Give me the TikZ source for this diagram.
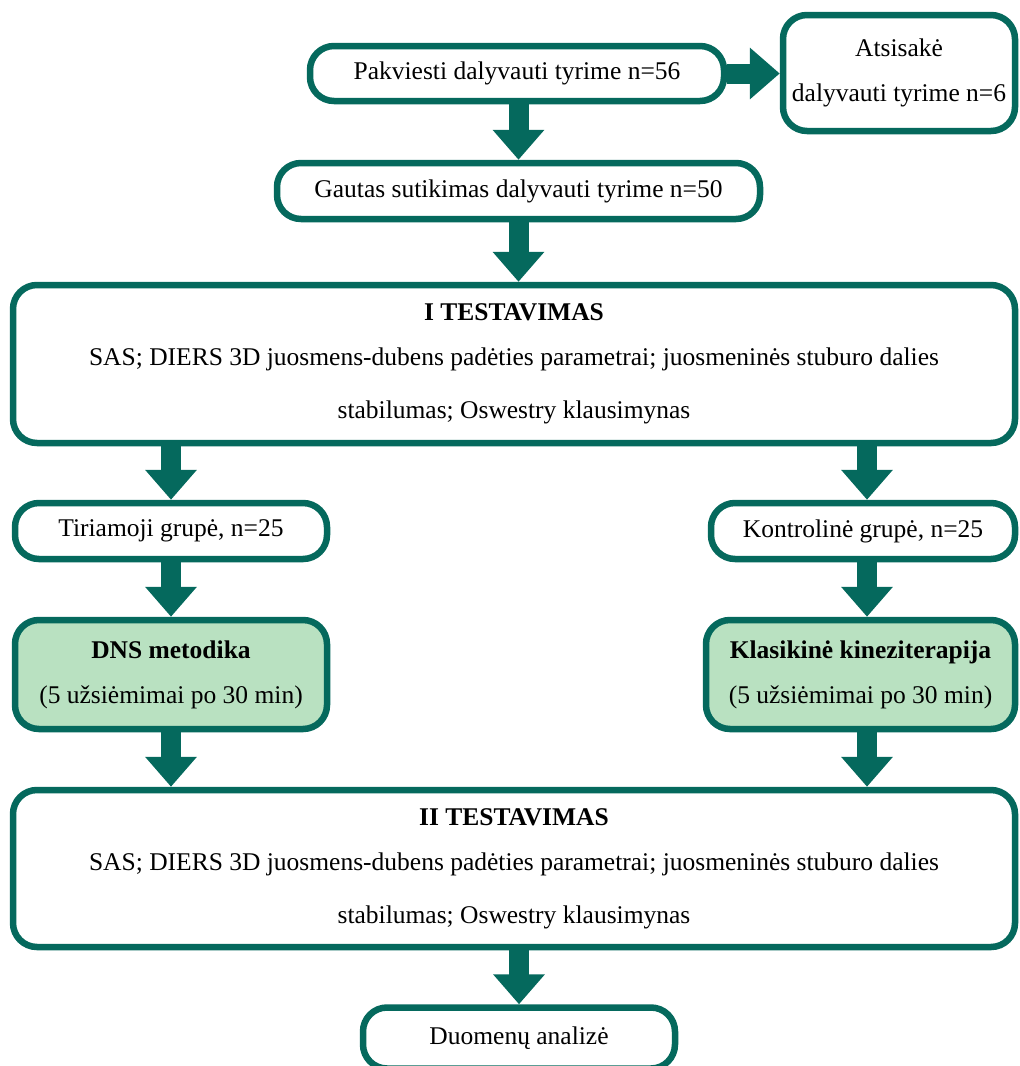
\documentclass[tikz,border=0pt]{standalone}
\usepackage{fontspec}
\setmainfont{Liberation Serif}
\usetikzlibrary{arrows.meta,calc}
\definecolor{tealc}{HTML}{05695D}
\definecolor{greenf}{HTML}{B9E1C1}
\tikzset{
  box/.style={draw=tealc, line width=6.5pt, rounded corners=24pt, fill=white,
    align=center, inner sep=0pt, font=\fontsize{25.5}{45}\selectfont},
  gbox/.style={box, fill=greenf},
  flow/.style={draw=tealc, line width=20pt, -{Triangle[width=50pt,length=30pt]}}
}
\begin{document}
\begin{tikzpicture}[x=1pt,y=-1pt]
\useasboundingbox (0,0) rectangle (1020,1066);
\clip (0,0) rectangle (1020,1066);
\node[box, minimum width=414pt, minimum height=55pt] (pak) at (517,73.5) {Pakviesti dalyvauti tyrime n=56};
\node[box, minimum width=232pt, minimum height=116pt] (ats) at (899,73) {Atsisakė\\dalyvauti tyrime n=6};
\node[box, minimum width=483pt, minimum height=56pt] (gaut) at (518.5,191) {Gautas sutikimas dalyvauti tyrime n=50};
\node[box, minimum width=1002pt, minimum height=158pt] (t1) at (514,364) {\textbf{I TESTAVIMAS}\\SAS; DIERS 3D juosmens-dubens padėties parametrai; juosmeninės stuburo dalies\\[8pt]stabilumas; Oswestry klausimynas};
\node[box, minimum width=312pt, minimum height=56pt] (tir) at (171,531) {Tiriamoji grupė, n=25};
\node[box, minimum width=304pt, minimum height=56pt] (kon) at (863,531) {Kontrolinė grupė, n=25};
\node[gbox, minimum width=312pt, minimum height=109pt] (dns) at (171,674.5) {\textbf{DNS metodika}\\(5 užsiėmimai po 30 min)};
\node[gbox, minimum width=309pt, minimum height=109pt] (kla) at (860.5,674.5) {\textbf{Klasikinė kineziterapija}\\(5 užsiėmimai po 30 min)};
\node[box, minimum width=1002pt, minimum height=157pt] (t2) at (514,868.5) {\textbf{II TESTAVIMAS}\\SAS; DIERS 3D juosmens-dubens padėties parametrai; juosmeninės stuburo dalies\\[8pt]stabilumas; Oswestry klausimynas};
\node[box, minimum width=312pt, minimum height=61pt] (duo) at (519,1038) {Duomenų analizė};
% connectors
\draw[flow] (pak.east) -- (pak.east -| ats.west);
\draw[flow] (pak.south -| gaut.north) -- (gaut.north);
\draw[flow] (gaut.south) -- (gaut.south |- t1.north);
\draw[flow] (t1.south -| tir.north) -- (tir.north);
\draw[flow] ([xshift=4pt]t1.south -| kon.north) -- ([xshift=4pt]kon.north);
\draw[flow] (tir.south) -- (dns.north);
\draw[flow] ([xshift=4pt]kon.south) -- ([xshift=4pt]kon.south |- kla.north);
\draw[flow] (dns.south) -- (dns.south |- t2.north);
\draw[flow] ([xshift=4pt]kon.south |- kla.south) -- ([xshift=4pt]kon.south |- t2.north);
\draw[flow] (t2.south -| duo.north) -- (duo.north);
\end{tikzpicture}
\end{document}
